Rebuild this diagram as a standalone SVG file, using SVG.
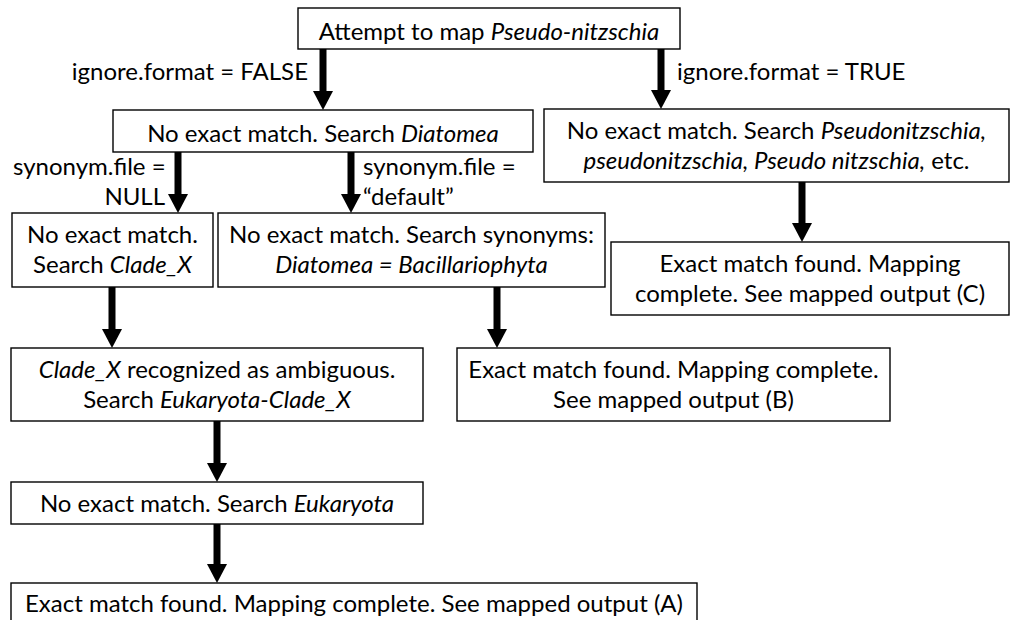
<svg xmlns="http://www.w3.org/2000/svg" width="1016" height="620" viewBox="0 0 1016 620">
<defs>
<style>
.box{fill:#fff;stroke:#000;stroke-width:1.4}
text{font-family:Lato,"Liberation Sans",sans-serif;font-size:24px;fill:#000}
.c{text-anchor:middle}
.e{text-anchor:end}
.i{font-style:italic}
.arr{stroke:#000;stroke-width:7;fill:none;marker-end:url(#ah)}
</style>
<marker id="ah" markerUnits="userSpaceOnUse" viewBox="0 0 19 20" markerWidth="19" markerHeight="20" refX="1" refY="10" orient="auto">
<path d="M0,0 L19,10 L0,20 Z" fill="#000"/>
</marker>
</defs>
<rect width="1016" height="620" fill="#fff"/>
<g id="connectors">
<line class="arr" x1="323" y1="49" x2="323" y2="92"/>
<line class="arr" x1="661" y1="49" x2="661" y2="91"/>
<line class="arr" x1="178" y1="152" x2="178" y2="195"/>
<line class="arr" x1="351" y1="152" x2="351" y2="195"/>
<line class="arr" x1="802" y1="182" x2="802" y2="224"/>
<line class="arr" x1="112" y1="287" x2="112" y2="330"/>
<line class="arr" x1="497" y1="287" x2="497" y2="330"/>
<line class="arr" x1="217" y1="421" x2="217" y2="464"/>
<line class="arr" x1="217" y1="524" x2="217" y2="565"/>
<text x="308" y="80" class="e">ignore.format = FALSE</text>
<text x="677" y="80">ignore.format = TRUE</text>
<text x="13" y="175">synonym.file =</text>
<text x="165" y="205" class="e">NULL</text>
<text x="363" y="175">synonym.file =</text>
<text x="363" y="205">“default”</text>
</g>
<g id="n-start">
<rect class="box" x="298" y="8" width="382" height="41"/>
<text x="489" y="40" class="c">Attempt to map <tspan class="i">Pseudo-nitzschia</tspan></text>
</g>
<g id="n-diatomea">
<rect class="box" x="113" y="110" width="420" height="42"/>
<text x="323" y="142" class="c">No exact match. Search <tspan class="i">Diatomea</tspan></text>
</g>
<g id="n-pseudonitzschia">
<rect class="box" x="544" y="109" width="465" height="73"/>
<text x="776.5" y="139" class="c">No exact match. Search <tspan class="i">Pseudonitzschia,</tspan></text>
<text x="776.5" y="169" class="c"><tspan class="i">pseudonitzschia, Pseudo nitzschia,</tspan> etc.</text>
</g>
<g id="n-c">
<rect class="box" x="611" y="242" width="398" height="73"/>
<text x="810" y="272" class="c">Exact match found. Mapping</text>
<text x="810" y="302" class="c">complete. See mapped output (C)</text>
</g>
<g id="n-cladex">
<rect class="box" x="12" y="213" width="201" height="74"/>
<text x="112.5" y="243" class="c">No exact match.</text>
<text x="112.5" y="273" class="c">Search <tspan class="i">Clade_X</tspan></text>
</g>
<g id="n-synonyms">
<rect class="box" x="218" y="213" width="387" height="74"/>
<text x="411.5" y="243" class="c">No exact match. Search synonyms:</text>
<text x="411.5" y="273" class="c i">Diatomea = Bacillariophyta</text>
</g>
<g id="n-ambiguous">
<rect class="box" x="11" y="348" width="412" height="73"/>
<text x="217" y="378" class="c"><tspan class="i">Clade_X</tspan> recognized as ambiguous.</text>
<text x="217" y="408" class="c">Search <tspan class="i">Eukaryota-Clade_X</tspan></text>
</g>
<g id="n-b">
<rect class="box" x="457" y="348" width="433" height="73"/>
<text x="673.5" y="378" class="c">Exact match found. Mapping complete.</text>
<text x="673.5" y="408" class="c">See mapped output (B)</text>
</g>
<g id="n-eukaryota">
<rect class="box" x="11" y="482" width="412" height="42"/>
<text x="217" y="512" class="c">No exact match. Search <tspan class="i">Eukaryota</tspan></text>
</g>
<g id="n-a">
<rect class="box" x="11" y="583" width="686" height="45"/>
<text x="354" y="612" class="c">Exact match found. Mapping complete. See mapped output (A)</text>
</g>
</svg>
